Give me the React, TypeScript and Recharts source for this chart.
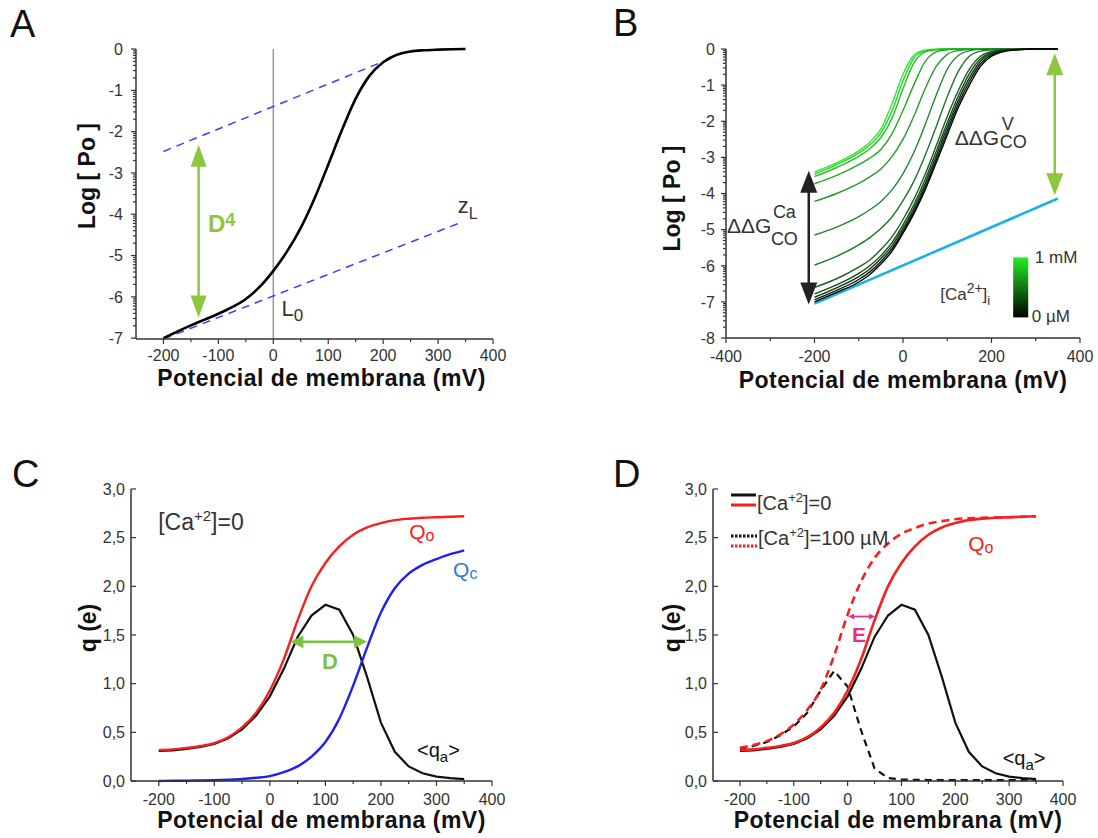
import React from 'react';
import {
  LineChart, Line, XAxis, YAxis, ReferenceLine, ReferenceDot, ReferenceArea, Legend,
} from 'recharts';

const FONT = '"Liberation Sans", Arial, Helvetica, sans-serif';
const AX = '#333';

// ---------- panel A: log Po vs V, [Ca]=0 ----------
const voltA = [-200, -175, -150, -125, -100, -75, -50, -25, 0, 25, 50, 75, 100, 125, 150, 175, 200, 225, 250, 275, 300, 325, 350];
const logPoA = [-7.0, -6.84, -6.69, -6.55, -6.41, -6.25, -6.05, -5.76, -5.37, -4.9, -4.33, -3.62, -2.8, -1.96, -1.2, -0.65, -0.32, -0.14, -0.06, -0.03, -0.015, -0.005, 0];
const voltUpperAsym = [-200, 219];
const logPoUpperAsym = [-2.48, -0.2];
const voltLowerAsym = [-200, 345];
const logPoLowerAsym = [-7.02, -4.18];

// ---------- panel B: log Po for increasing [Ca2+] ----------
const voltB = [-200, -150, -100, -75, -50, -25, 0, 25, 50, 75, 100, 125, 150, 175, 200, 225, 250, 300, 350];
const curve01 = [-3.40, -3.15, -2.82, -2.58, -2.22, -1.52, -0.7, -0.17, -0.03, -0.005, 0, 0, 0, 0, 0, 0, 0, 0, 0];
const curve02 = [-3.46, -3.2, -2.88, -2.66, -2.32, -1.72, -0.88, -0.25, -0.05, -0.01, 0, 0, 0, 0, 0, 0, 0, 0, 0];
const curve03 = [-3.53, -3.28, -2.97, -2.76, -2.45, -1.92, -1.1, -0.38, -0.08, -0.02, 0, 0, 0, 0, 0, 0, 0, 0, 0];
const curve04 = [-3.73, -3.5, -3.2, -3.02, -2.78, -2.35, -1.7, -0.98, -0.35, -0.08, -0.02, 0, 0, 0, 0, 0, 0, 0, 0];
const curve05 = [-4.22, -4.0, -3.72, -3.54, -3.32, -2.98, -2.5, -1.85, -1.1, -0.48, -0.15, -0.04, -0.01, 0, 0, 0, 0, 0, 0];
const curve06 = [-5.15, -4.93, -4.64, -4.45, -4.22, -3.9, -3.45, -2.85, -2.1, -1.28, -0.56, -0.18, -0.05, -0.01, 0, 0, 0, 0, 0];
const curve07 = [-5.98, -5.74, -5.42, -5.22, -4.97, -4.65, -4.2, -3.65, -2.95, -2.15, -1.32, -0.62, -0.2, -0.06, -0.02, 0, 0, 0, 0];
const curve08 = [-6.6, -6.36, -6.04, -5.84, -5.55, -5.2, -4.72, -4.15, -3.47, -2.68, -1.87, -1.15, -0.56, -0.2, -0.07, -0.02, -0.01, 0, 0];
const curve09 = [-6.78, -6.53, -6.21, -6.0, -5.72, -5.36, -4.87, -4.3, -3.62, -2.84, -2.04, -1.3, -0.68, -0.27, -0.1, -0.03, -0.015, 0, 0];
const curve10 = [-6.87, -6.61, -6.3, -6.09, -5.8, -5.45, -4.96, -4.4, -3.73, -2.96, -2.16, -1.42, -0.8, -0.34, -0.13, -0.05, -0.02, 0, 0];
const curve11 = [-6.94, -6.68, -6.38, -6.17, -5.88, -5.53, -5.04, -4.48, -3.82, -3.06, -2.27, -1.52, -0.9, -0.41, -0.16, -0.06, -0.025, 0, 0];
const curve12 = [-7.0, -6.74, -6.45, -6.24, -5.95, -5.6, -5.1, -4.55, -3.9, -3.15, -2.38, -1.62, -1.0, -0.48, -0.2, -0.08, -0.03, 0, 0];
const caCurves = [curve01, curve02, curve03, curve04, curve05, curve06, curve07, curve08, curve09, curve10, curve11, curve12];
const caColors = ['#2fe82f', '#2bd52b', '#27c027', '#22a822', '#259a2c', '#23882b', '#1f7527', '#1a6021', '#154d1a', '#0f3812', '#09240b', '#000000'];
const voltClosed = [-200, 350];
const logPoClosed = [-7.05, -4.14];

// ---------- panels C and D: gating charge ----------
const voltQ = [-200, -175, -150, -125, -100, -75, -50, -25, 0, 25, 50, 75, 100, 125, 150, 175, 200, 225, 250, 275, 300, 325, 350];
const qOpen = [0.32, 0.325, 0.34, 0.36, 0.39, 0.45, 0.55, 0.7, 0.93, 1.25, 1.65, 2.0, 2.24, 2.41, 2.53, 2.605, 2.65, 2.68, 2.695, 2.705, 2.71, 2.715, 2.72];
const qClosed = [0.0, 0.002, 0.003, 0.005, 0.008, 0.013, 0.02, 0.033, 0.05, 0.09, 0.15, 0.25, 0.4, 0.64, 0.98, 1.37, 1.73, 1.98, 2.13, 2.22, 2.28, 2.33, 2.37];
const qActive = [0.31, 0.315, 0.33, 0.35, 0.38, 0.44, 0.53, 0.67, 0.87, 1.15, 1.48, 1.7, 1.81, 1.76, 1.5, 1.07, 0.6, 0.3, 0.15, 0.08, 0.045, 0.03, 0.02];
const voltQCa = [-200, -175, -150, -125, -100, -75, -50, -25, 0, 25, 50, 75, 100, 125, 150, 175, 200, 250, 300, 350];
const qOpenCa = [0.34, 0.37, 0.41, 0.48, 0.58, 0.73, 0.94, 1.29, 1.71, 2.05, 2.29, 2.44, 2.54, 2.6, 2.645, 2.67, 2.69, 2.705, 2.71, 2.72];
const qActiveCa = [0.33, 0.36, 0.4, 0.47, 0.56, 0.7, 0.93, 1.13, 0.97, 0.52, 0.13, 0.03, 0.015, 0.012, 0.01, 0.01, 0.01, 0.01, 0.01, 0.01];

const pts = (xs: number[], ys: number[]) => xs.map((x, i) => ({ x, y: ys[i] }));

const logMinor = (lo: number, hi: number) => {
  const out: number[] = [];
  for (let d = lo; d < hi; d++) for (let k = 2; k <= 9; k++) out.push(d + Math.log10(k));
  return out;
};
const ticksLogA = [-7, -6, -5, -4, -3, -2, -1, 0];
const ticksLogB = [-8, -7, -6, -5, -4, -3, -2, -1, 0];
const ticksVoltA = [-200, -150, -100, -50, 0, 50, 100, 150, 200, 250, 300, 350, 400];
const ticksVoltB = [-400, -300, -200, -100, 0, 100, 200, 300, 400];
const ticksQ = [0, 0.5, 1, 1.5, 2, 2.5, 3];

const isIn = (arr: number[], v: number) => arr.some((m) => Math.abs(m - v) < 1e-6);

const yTick = (majors: number[], fmt: (v: number) => string, gap: number, inward = false) => (p: any) => {
  const { x, y, payload } = p;
  const major = isIn(majors, payload.value);
  const len = major ? 5 : 3;
  return (
    <g>
      <line x1={x} y1={y} x2={inward ? x + len : x - len} y2={y} stroke={AX} strokeWidth={1.2} />
      {major && (
        <text x={x - gap} y={y} dy="0.36em" textAnchor="end" fontFamily={FONT} fontSize={16} fill={AX}>
          {fmt(payload.value)}
        </text>
      )}
    </g>
  );
};

const xTick = (majors: number[], base: number) => (p: any) => {
  const { x, y, payload } = p;
  const major = isIn(majors, payload.value);
  return (
    <g>
      <line x1={x} y1={y} x2={x} y2={y + (major ? 5 : 3)} stroke={AX} strokeWidth={1.2} />
      {major && (
        <text x={x} y={y + base} textAnchor="middle" fontFamily={FONT} fontSize={16} fill={AX}>
          {String(payload.value)}
        </text>
      )}
    </g>
  );
};

const comma = (v: number) => v.toFixed(1).replace('.', ',');

const xTitle = (dx: number, dy: number) => ({
  content: (p: any) => {
    const vb = p.viewBox;
    return (
      <text x={vb.x + vb.width / 2 + dx} y={vb.y + dy} textAnchor="middle" fontFamily={FONT}
        fontWeight="bold" fontSize={23} letterSpacing={0.5} fill="#111">
        Potencial de membrana (mV)
      </text>
    );
  },
});

const yTitle = (text: string, cx: number, dy: number) => ({
  content: (p: any) => {
    const vb = p.viewBox;
    const cy = vb.y + vb.height / 2 + dy;
    return (
      <text x={cx} y={cy} transform={`rotate(-90 ${cx} ${cy})`} textAnchor="middle" dominantBaseline="central"
        fontFamily={FONT} fontWeight="bold" fontSize={23} fill="#111">
        {text}
      </text>
    );
  },
});

const arrow = (color: string, w: number, headL: number, headW: number) => (p: any) => {
  const { x1, y1, x2, y2 } = p;
  const dx = x2 - x1;
  const dy = y2 - y1;
  const L = Math.hypot(dx, dy) || 1;
  const ux = dx / L;
  const uy = dy / L;
  const nx = -uy;
  const ny = ux;
  const head = (tx: number, ty: number, s: number) => {
    const bx = tx - s * ux * headL;
    const by = ty - s * uy * headL;
    return `${tx},${ty} ${bx + nx * headW / 2},${by + ny * headW / 2} ${bx - nx * headW / 2},${by - ny * headW / 2}`;
  };
  return (
    <g>
      <line x1={x1 + ux * headL * 0.8} y1={y1 + uy * headL * 0.8} x2={x2 - ux * headL * 0.8} y2={y2 - uy * headL * 0.8}
        stroke={color} strokeWidth={w} />
      <polygon points={head(x2, y2, 1)} fill={color} />
      <polygon points={head(x1, y1, -1)} fill={color} />
    </g>
  );
};

const at = (node: (cx: number, cy: number) => React.ReactNode) => (p: any) => <g>{node(p.cx, p.cy)}</g>;

const letter = (ch: string, left: number, top: number) => (
  <div style={{ position: 'absolute', left, top, fontSize: 38, lineHeight: 1, fontFamily: FONT, color: '#111' }}>{ch}</div>
);

const noDot = { dot: false as const, activeDot: false as const, isAnimationActive: false };

function PanelA() {
  return (
    <LineChart width={549} height={420} margin={{ top: 49, right: 56, bottom: 21, left: 0 }}>
      <XAxis type="number" dataKey="x" domain={[-250, 400]} ticks={ticksVoltA} interval={0} tickSize={0} tickMargin={0}
        tickLine={false} axisLine={{ stroke: AX, strokeWidth: 1.5 }} height={60}
        tick={xTick([-200, -100, 0, 100, 200, 300, 400], 22)} label={xTitle(7, 47)} />
      <YAxis type="number" domain={[-7, 0]} ticks={[...ticksLogA, ...logMinor(-7, 0)]} interval={0} tickSize={0}
        tickMargin={0} tickLine={false} axisLine={{ stroke: AX, strokeWidth: 1.5 }} width={136}
        tick={yTick(ticksLogA, (v) => String(v), 13)} label={yTitle('Log [ Po ]', 87, -18)} />
      <ReferenceLine x={0} stroke="#999" strokeWidth={1.5} />
      <Line data={pts(voltUpperAsym, logPoUpperAsym)} dataKey="y" stroke="#3d3dff" strokeWidth={1.5} strokeDasharray="8 6" {...noDot} />
      <Line data={pts(voltLowerAsym, logPoLowerAsym)} dataKey="y" stroke="#3d3dff" strokeWidth={1.5} strokeDasharray="8 6" {...noDot} />
      <Line data={pts(voltA, logPoA)} dataKey="y" type="monotone" stroke="#000" strokeWidth={2.6} {...noDot} />
      <ReferenceLine segment={[{ x: -136, y: -2.32 }, { x: -136, y: -6.5 }]} shape={arrow('#8dc63f', 2.5, 22, 16)} />
      <ReferenceDot x={-119} y={-4.44} r={0} shape={at((cx, cy) => (
        <text x={cx} y={cy} fontFamily={FONT} fontWeight="bold" fontSize={24} fill="#8dc63f">
          D<tspan dy={-6} fontSize={18}>4</tspan>
        </text>
      ))} />
      <ReferenceDot x={15} y={-6.46} r={0} shape={at((cx, cy) => (
        <text x={cx} y={cy} fontFamily={FONT} fontSize={22} fill="#333">
          L<tspan dy={5} fontSize={17}>0</tspan>
        </text>
      ))} />
      <ReferenceDot x={336} y={-3.96} r={0} shape={at((cx, cy) => (
        <text x={cx} y={cy} fontFamily={FONT} fontSize={22} fill="#333">
          z<tspan dy={6} fontSize={16}>L</tspan>
        </text>
      ))} />
    </LineChart>
  );
}

function PanelB() {
  return (
    <LineChart width={549} height={420} margin={{ top: 49, right: 18, bottom: 22, left: 0 }}>
      <XAxis type="number" dataKey="x" domain={[-400, 400]} ticks={ticksVoltB} interval={0} tickSize={0} tickMargin={0}
        tickLine={false} axisLine={{ stroke: AX, strokeWidth: 1.5 }} height={60}
        tick={xTick([-400, -200, 0, 200, 400], 24)} label={xTitle(0, 50)} />
      <YAxis type="number" domain={[-8, 0]} ticks={[...ticksLogB, ...logMinor(-8, 0)]} interval={0} tickSize={0}
        tickMargin={0} tickLine={false} axisLine={{ stroke: AX, strokeWidth: 1.5 }} width={177}
        tick={yTick(ticksLogB, (v) => String(v), 11)} label={yTitle('Log [ Po ]', 123, 5)} />
      <Line data={pts(voltClosed, logPoClosed)} dataKey="y" stroke="#1ab0e8" strokeWidth={2.6} {...noDot} />
      {caCurves.map((c, i) => (
        <Line key={i} data={pts(voltB, c)} dataKey="y" type="monotone" stroke={caColors[i]} strokeWidth={1.4} {...noDot} />
      ))}
      <ReferenceLine segment={[{ x: -213, y: -3.37 }, { x: -213, y: -7.07 }]} shape={arrow('#222', 2.5, 22, 17)} />
      <ReferenceLine segment={[{ x: 343, y: -0.12 }, { x: 343, y: -4.05 }]} shape={arrow('#8dc63f', 2.5, 22, 17)} />
      <ReferenceDot x={-398} y={-5.1} r={0} shape={at((cx, cy) => (
        <g fontFamily={FONT} fill="#333">
          <text x={cx} y={cy} fontSize={21}>ΔΔG</text>
          <text x={cx + 46} y={cy - 15} fontSize={18}>Ca</text>
          <text x={cx + 44} y={cy + 12} fontSize={18}>CO</text>
        </g>
      ))} />
      <ReferenceDot x={117} y={-2.66} r={0} shape={at((cx, cy) => (
        <g fontFamily={FONT} fill="#333">
          <text x={cx} y={cy} fontSize={21}>ΔΔG</text>
          <text x={cx + 47} y={cy - 15} fontSize={18}>V</text>
          <text x={cx + 45} y={cy + 3} fontSize={18}>CO</text>
        </g>
      ))} />
      <ReferenceArea x1={249} x2={283} y1={-7.43} y2={-5.77} shape={(p: any) => (
        <g>
          <defs>
            <linearGradient id="caBar" x1="0" y1="0" x2="0" y2="1">
              <stop offset="0%" stopColor="#22ee22" />
              <stop offset="100%" stopColor="#000" />
            </linearGradient>
          </defs>
          <rect x={p.x} y={p.y} width={p.width} height={p.height} fill="url(#caBar)" />
        </g>
      )} />
      <ReferenceDot x={84} y={-6.96} r={0} shape={at((cx, cy) => (
        <text x={cx} y={cy} fontFamily={FONT} fontSize={17} fill="#333">
          [Ca<tspan dy={-7} fontSize={14}>2+</tspan><tspan dy={7}>]</tspan><tspan dy={5} fontSize={13}>i</tspan>
        </text>
      ))} />
      <ReferenceDot x={298} y={-5.93} r={0} shape={at((cx, cy) => (
        <text x={cx} y={cy} fontFamily={FONT} fontSize={17} fill="#333">1 mM</text>
      ))} />
      <ReferenceDot x={291} y={-7.56} r={0} shape={at((cx, cy) => (
        <text x={cx} y={cy} fontFamily={FONT} fontSize={17} fill="#333">0 µM</text>
      ))} />
    </LineChart>
  );
}

const qAxes = (yw: number, ycx: number) => [
  <XAxis key="x" type="number" dataKey="x" domain={[-250, 400]} ticks={ticksVoltA} interval={0} tickSize={0} tickMargin={0}
    tickLine={false} axisLine={{ stroke: AX, strokeWidth: 1.5 }} height={40}
    tick={xTick([-200, -100, 0, 100, 200, 300, 400], 24)} label={xTitle(10, 47)} />,
  <YAxis key="y" type="number" domain={[0, 3]} ticks={ticksQ} interval={0} tickSize={0} tickMargin={0} tickLine={false}
    axisLine={{ stroke: AX, strokeWidth: 1.5 }} width={yw} tick={yTick(ticksQ, comma, 6, true)}
    label={yTitle('q (e)', ycx, -7)} />,
];

function PanelC() {
  return (
    <LineChart width={549} height={418} margin={{ top: 69, right: 57, bottom: 17, left: 0 }}>
      {qAxes(131, 88)}
      <Line data={pts(voltQ, qActive)} dataKey="y" type="linear" stroke="#111" strokeWidth={2.2} {...noDot} />
      <Line data={pts(voltQ, qClosed)} dataKey="y" type="monotone" stroke="#1f1ff5" strokeWidth={2.4} {...noDot} />
      <Line data={pts(voltQ, qOpen)} dataKey="y" type="monotone" stroke="#f52020" strokeWidth={2.4} {...noDot} />
      <ReferenceLine segment={[{ x: 37, y: 1.43 }, { x: 175, y: 1.43 }]} shape={arrow('#7dc242', 2.5, 13, 13)} />
      <ReferenceDot x={108} y={1.15} r={0} shape={at((cx, cy) => (
        <text x={cx} y={cy} textAnchor="middle" fontFamily={FONT} fontWeight="bold" fontSize={22} fill="#7dc242">D</text>
      ))} />
      <ReferenceDot x={-201} y={2.58} r={0} shape={at((cx, cy) => (
        <text x={cx} y={cy} fontFamily={FONT} fontSize={23} fill="#333">
          [Ca<tspan dy={-9} fontSize={15}>+2</tspan><tspan dy={9}>]=0</tspan>
        </text>
      ))} />
      <ReferenceDot x={251} y={2.49} r={0} shape={at((cx, cy) => (
        <text x={cx} y={cy} fontFamily={FONT} fontSize={21} fill="#f52020">Q<tspan dy={2} fontSize={16}>o</tspan></text>
      ))} />
      <ReferenceDot x={330} y={2.1} r={0} shape={at((cx, cy) => (
        <text x={cx} y={cy} fontFamily={FONT} fontSize={21} fill="#2a7fd0">Q<tspan dy={2} fontSize={16}>c</tspan></text>
      ))} />
      <ReferenceDot x={265} y={0.25} r={0} shape={at((cx, cy) => (
        <text x={cx} y={cy} fontFamily={FONT} fontSize={20} fill="#111">
          {'<q'}<tspan dy={5} fontSize={15}>a</tspan><tspan dy={-5}>{'>'}</tspan>
        </text>
      ))} />
    </LineChart>
  );
}

const legendD = () => (
  <svg width={170} height={64} style={{ display: 'block' }}>
    <line x1={0} x2={25} y1={5} y2={5} stroke="#111" strokeWidth={3} />
    <line x1={0} x2={25} y1={15} y2={15} stroke="#f52020" strokeWidth={3} />
    <text x={26} y={20} fontFamily={FONT} fontSize={20} fill="#333">
      [Ca<tspan dy={-8} fontSize={13}>+2</tspan><tspan dy={8}>]=0</tspan>
    </text>
    <line x1={0} x2={26} y1={46} y2={46} stroke="#111" strokeWidth={3} strokeDasharray="2.5 1.5" />
    <line x1={0} x2={26} y1={56} y2={56} stroke="#f52020" strokeWidth={3} strokeDasharray="2.5 1.5" />
    <text x={27} y={55} fontFamily={FONT} fontSize={20} fill="#333">
      [Ca<tspan dy={-8} fontSize={13}>+2</tspan><tspan dy={8}>]=100 µM</tspan>
    </text>
  </svg>
);

function PanelD() {
  return (
    <LineChart width={549} height={418} margin={{ top: 69, right: 35, bottom: 17, left: 0 }}>
      {qAxes(164, 123)}
      <Line data={pts(voltQCa, qActiveCa)} dataKey="y" type="linear" stroke="#111" strokeWidth={2.2} strokeDasharray="7 5" {...noDot} />
      <Line data={pts(voltQCa, qOpenCa)} dataKey="y" type="monotone" stroke="#f52020" strokeWidth={2.6} strokeDasharray="8 5" {...noDot} />
      <Line data={pts(voltQ, qActive)} dataKey="y" type="linear" stroke="#111" strokeWidth={2.2} {...noDot} />
      <Line data={pts(voltQ, qOpen)} dataKey="y" type="monotone" stroke="#f52020" strokeWidth={2.6} {...noDot} />
      <ReferenceLine segment={[{ x: 1, y: 1.69 }, { x: 51, y: 1.69 }]} shape={arrow('#e6338a', 1.8, 6, 6)} />
      <ReferenceDot x={8} y={1.43} r={0} shape={at((cx, cy) => (
        <text x={cx} y={cy} fontFamily={FONT} fontWeight="bold" fontSize={21} fill="#e6338a">E</text>
      ))} />
      <ReferenceDot x={224} y={2.36} r={0} shape={at((cx, cy) => (
        <text x={cx} y={cy} fontFamily={FONT} fontSize={21} fill="#f52020">Q<tspan dy={2} fontSize={16}>o</tspan></text>
      ))} />
      <ReferenceDot x={288} y={0.16} r={0} shape={at((cx, cy) => (
        <text x={cx} y={cy} fontFamily={FONT} fontSize={20} fill="#111">
          {'<q'}<tspan dy={5} fontSize={15}>a</tspan><tspan dy={-5}>{'>'}</tspan>
        </text>
      ))} />
      <Legend content={legendD} layout="horizontal" verticalAlign="middle" align="center"
        wrapperStyle={{ left: 182, top: 70, width: 170 }} />
    </LineChart>
  );
}

export default function App() {
  return (
    <div style={{ position: 'absolute', left: 0, top: 0, width: 1098, height: 838, background: '#fff', fontFamily: FONT }}>
      <div style={{ position: 'absolute', left: 0, top: 0 }}><PanelA /></div>
      <div style={{ position: 'absolute', left: 549, top: 0 }}><PanelB /></div>
      <div style={{ position: 'absolute', left: 0, top: 420 }}><PanelC /></div>
      <div style={{ position: 'absolute', left: 549, top: 420 }}><PanelD /></div>
      {letter('A', 10, 5)}
      {letter('B', 613, 4)}
      {letter('C', 12, 455)}
      {letter('D', 613, 455)}
    </div>
  );
}
